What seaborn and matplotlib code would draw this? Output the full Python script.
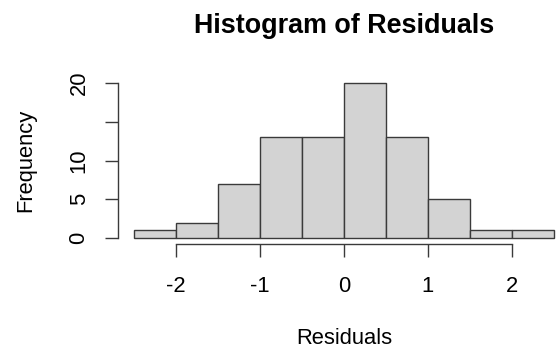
import numpy as np
import pandas as pd
import matplotlib
matplotlib.use("Agg")
import matplotlib.pyplot as plt
import seaborn as sns

# Data
bin_edges = [-2.5, -2.0, -1.5, -1.0, -0.5, 0.0, 0.5, 1.0, 1.5, 2.0, 2.5]
counts = [1, 2, 7, 13, 13, 20, 13, 5, 1, 1]
x_ticks = [-2, -1, 0, 1, 2]
y_ticks = [0, 5, 10, 15, 20]
y_tick_labels = ["0", "5", "10", "", "20"]

sns.set_style("white")
plt.rcParams["font.family"] = ["Liberation Sans", "DejaVu Sans"]
plt.rcParams["text.color"] = "black"
plt.rcParams["axes.labelcolor"] = "black"

centers = [(a + b) / 2 for a, b in zip(bin_edges[:-1], bin_edges[1:])]
df = pd.DataFrame({"resid": centers, "n": counts})

W, H = 558, 352
fig = plt.figure(figsize=(W / 100, H / 100), dpi=100)
left, right, bottom, top = 117.5, 570.6, 244.3, 76.7
ax = fig.add_axes([left / W, 1 - bottom / H, (right - left) / W, (bottom - top) / H])

sns.histplot(data=df, x="resid", weights="n", bins=bin_edges, ax=ax,
             color="#D3D3D3", alpha=1, edgecolor="#3a3a3a", linewidth=1.0)

ax.set_xlim(-2.7, 2.7)
ax.set_ylim(-0.8, 20.8)

for s in ["top", "right"]:
    ax.spines[s].set_visible(False)
ax.spines["bottom"].set_bounds(-2, 2)
ax.spines["left"].set_bounds(0, 20)
for s in ["bottom", "left"]:
    ax.spines[s].set_color("#3a3a3a")
    ax.spines[s].set_linewidth(1.0)

fs = 15.8
ax.set_xticks(x_ticks)
ax.set_xticklabels([str(v) for v in x_ticks])
ax.set_yticks(y_ticks)
ax.set_yticklabels(y_tick_labels, rotation=90, va="center")
ax.tick_params(axis="x", direction="out", length=9.1, width=1.0, color="#3a3a3a",
               pad=13.5, labelsize=fs, labelcolor="black", bottom=True)
ax.tick_params(axis="y", direction="out", length=9.6, width=1.0, color="#3a3a3a",
               pad=10.5, labelsize=fs, labelcolor="black", left=True)

ax.set_xlabel("Residuals", fontsize=fs, color="black")
ax.xaxis.set_label_coords(0.5, (bottom - 339) / (bottom - top))
ax.xaxis.label.set_va("center")
ax.set_ylabel("Frequency", fontsize=fs, color="black")
ax.yaxis.set_label_coords((25.5 - left) / (right - left), 0.5)
ax.yaxis.label.set_va("center")

ax.set_title("Histogram of Residuals", fontsize=19.4, fontweight="bold", color="black",
             y=(bottom - 33.3) / (bottom - top), pad=0, va="baseline")

fig.savefig("out.png", dpi=100)
